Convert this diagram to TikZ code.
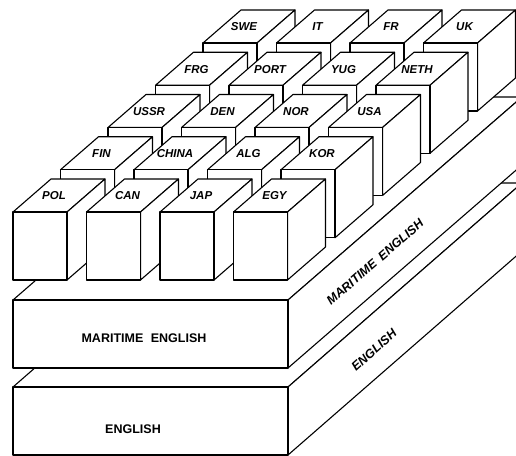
\documentclass[tikz,border=0pt]{standalone}
\usepackage{fontspec}
\setmainfont{Liberation Sans}
\newcommand\mycube[4]{% name, x, y, label
  \begin{scope}[shift={(#2,#3)}]
    \filldraw[face] (0,0) -- (54,0) -- (92,-33) -- (38,-33) -- cycle;
    \filldraw[face] (54,0) -- (92,-33) -- (92,35) -- (54,68) -- cycle;
    \filldraw[face] (0,0) rectangle (54,68);
    \node[cubelabel] (#1) at (41,-16) {#4};
  \end{scope}}
\begin{document}
\begin{tikzpicture}[x=1pt,y=-1pt,line width=1.1pt,line join=round,
  face/.style={draw=black,fill=white},
  cubelabel/.style={font=\fontsize{11.5}{12}\selectfont\bfseries\itshape,inner sep=0pt},
  frontlabel/.style={font=\fontsize{12.5}{13}\selectfont\bfseries,inner sep=0pt},
  sidelabel/.style={font=\fontsize{12.5}{13}\selectfont\bfseries\itshape,inner sep=0pt}]
\useasboundingbox (0,0) rectangle (516,455);
\clip (0,0) rectangle (516,455);
% English slab
\coordinate (EFL) at (13,387);
\coordinate (EFR) at (288,387);
\coordinate (EBR) at (288,455);
\filldraw[face] (EFL) -- (EFR) -- ++(234,-204) -- ++(-275,0) -- cycle;
\filldraw[face] (EFR) -- ++(234,-204) -- ++(0,68) -- (EBR) -- cycle;
\filldraw[face] (EFL) rectangle (EBR);
% Maritime English slab
\coordinate (MFL) at (13,300);
\coordinate (MFR) at (288,300);
\coordinate (MBR) at (288,368);
\filldraw[face] (MFL) -- (MFR) -- ++(234,-203) -- ++(-275,0) -- cycle;
\filldraw[face] (MFR) -- ++(234,-203) -- ++(0,68) -- (MBR) -- cycle;
\filldraw[face] (MFL) rectangle (MBR);
% labels of slabs
\node[frontlabel] (me-front) at (144,338) {MARITIME\hspace{0.6em}ENGLISH};
\node[frontlabel] (en-front) at (133,429) {ENGLISH};
\node[sidelabel,rotate=41] (me-side) at (375,262) {MARITIME\hspace{0.5em}ENGLISH};
\node[sidelabel,rotate=42] (en-side) at (374,350) {ENGLISH};
% cubes, back row first
\mycube{swe}{203}{43}{SWE}
\mycube{it}{276.5}{43}{IT}
\mycube{fr}{350}{43}{FR}
\mycube{uk}{423.5}{43}{UK}
\mycube{frg}{155.5}{85.25}{FRG}
\mycube{port}{229}{85.25}{PORT}
\mycube{yug}{302.5}{85.25}{YUG}
\mycube{neth}{376}{85.25}{NETH}
\mycube{ussr}{108}{127.5}{USSR}
\mycube{den}{181.5}{127.5}{DEN}
\mycube{nor}{255}{127.5}{NOR}
\mycube{usa}{328.5}{127.5}{USA}
\mycube{fin}{60.5}{169.75}{FIN}
\mycube{china}{134}{169.75}{CHINA}
\mycube{alg}{207.5}{169.75}{ALG}
\mycube{kor}{281}{169.75}{KOR}
\mycube{pol}{13}{212}{POL}
\mycube{can}{86.5}{212}{CAN}
\mycube{jap}{160}{212}{JAP}
\mycube{egy}{233.5}{212}{EGY}
\end{tikzpicture}
\end{document}
